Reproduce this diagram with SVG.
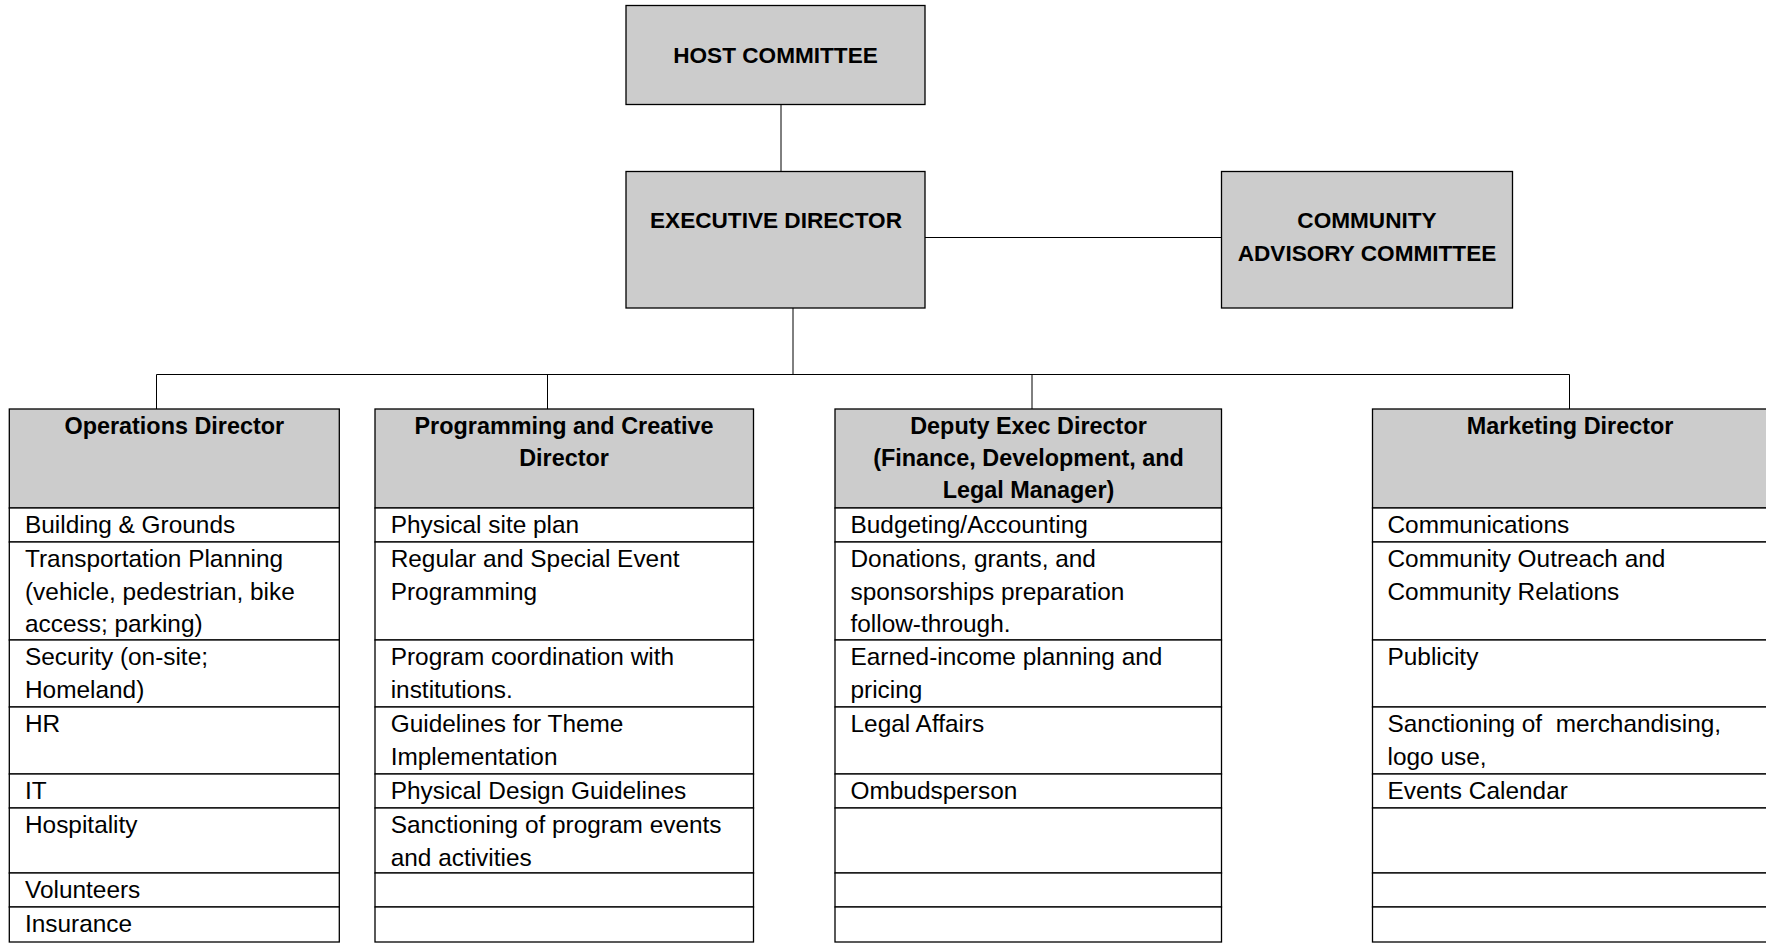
<svg xmlns="http://www.w3.org/2000/svg" width="1766" height="943" viewBox="0 0 1766 943">
<style>
.box{fill:#cccccc;stroke:#000;stroke-width:1.3}
.cell{fill:#fff;stroke:#000;stroke-width:1.3}
.hdr{fill:#cccccc;stroke:#000;stroke-width:1.3}
.ln{fill:none;stroke:#000;stroke-width:1}
.cap{font-family:"Liberation Sans",Arial,sans-serif;font-weight:bold;font-size:22.6px;fill:#000;text-anchor:middle}
.h{font-family:"Liberation Sans",Arial,sans-serif;font-weight:bold;font-size:23.4px;fill:#000;text-anchor:middle}
.t{font-family:"Liberation Sans",Arial,sans-serif;font-size:24.4px;fill:#000}
</style>
<rect width="1766" height="943" fill="#fff"/>
<g id="connectors">
<line class="ln" x1="781" y1="104.5" x2="781" y2="171.5"/>
<line class="ln" x1="925" y1="237.5" x2="1221.5" y2="237.5"/>
<line class="ln" x1="793" y1="308" x2="793" y2="374.5"/>
<line class="ln" x1="156.5" y1="374.5" x2="1569.5" y2="374.5"/>
<line class="ln" x1="156.5" y1="374.5" x2="156.5" y2="409"/>
<line class="ln" x1="547.5" y1="374.5" x2="547.5" y2="409"/>
<line class="ln" x1="1032" y1="374.5" x2="1032" y2="409"/>
<line class="ln" x1="1569.5" y1="374.5" x2="1569.5" y2="409"/>
</g>
<g id="host">
<rect class="box" x="626" y="5.5" width="299" height="99"/>
<text class="cap" x="775.5" y="63">HOST COMMITTEE</text>
</g>
<g id="exec">
<rect class="box" x="626" y="171.5" width="299" height="136.5"/>
<text class="cap" x="776" y="228">EXECUTIVE DIRECTOR</text>
</g>
<g id="community">
<rect class="box" x="1221.5" y="171.5" width="291" height="136.5"/>
<text class="cap" x="1367" y="228">COMMUNITY</text>
<text class="cap" x="1367" y="260.5">ADVISORY COMMITTEE</text>
</g>
<g id="operations">
<rect class="hdr" x="9.3" y="409" width="330" height="99"/>
<rect class="cell" x="9.3" y="508" width="330" height="34"/>
<rect class="cell" x="9.3" y="542" width="330" height="98"/>
<rect class="cell" x="9.3" y="640" width="330" height="67"/>
<rect class="cell" x="9.3" y="707" width="330" height="67"/>
<rect class="cell" x="9.3" y="774" width="330" height="34"/>
<rect class="cell" x="9.3" y="808" width="330" height="65"/>
<rect class="cell" x="9.3" y="873" width="330" height="34"/>
<rect class="cell" x="9.3" y="907" width="330" height="35"/>
<text class="h" x="174.3" y="433.5">Operations Director</text>
<text class="t" x="25" y="533">Building &amp; Grounds</text>
<text class="t" x="25" y="567">Transportation Planning</text>
<text class="t" x="25" y="599.5">(vehicle, pedestrian, bike</text>
<text class="t" x="25" y="632">access; parking)</text>
<text class="t" x="25" y="665">Security (on-site;</text>
<text class="t" x="25" y="697.5">Homeland)</text>
<text class="t" x="25" y="732">HR</text>
<text class="t" x="25" y="799">IT</text>
<text class="t" x="25" y="833">Hospitality</text>
<text class="t" x="25" y="898">Volunteers</text>
<text class="t" x="25" y="932">Insurance</text>
</g>
<g id="programming">
<rect class="hdr" x="375" y="409" width="378.5" height="99"/>
<rect class="cell" x="375" y="508" width="378.5" height="34"/>
<rect class="cell" x="375" y="542" width="378.5" height="98"/>
<rect class="cell" x="375" y="640" width="378.5" height="67"/>
<rect class="cell" x="375" y="707" width="378.5" height="67"/>
<rect class="cell" x="375" y="774" width="378.5" height="34"/>
<rect class="cell" x="375" y="808" width="378.5" height="65"/>
<rect class="cell" x="375" y="873" width="378.5" height="34"/>
<rect class="cell" x="375" y="907" width="378.5" height="35"/>
<text class="h" x="564" y="433.5">Programming and Creative</text>
<text class="h" x="564" y="466">Director</text>
<text class="t" x="390.7" y="533">Physical site plan</text>
<text class="t" x="390.7" y="567">Regular and Special Event</text>
<text class="t" x="390.7" y="599.5">Programming</text>
<text class="t" x="390.7" y="665">Program coordination with</text>
<text class="t" x="390.7" y="697.5">institutions.</text>
<text class="t" x="390.7" y="732">Guidelines for Theme</text>
<text class="t" x="390.7" y="764.5">Implementation</text>
<text class="t" x="390.7" y="799">Physical Design Guidelines</text>
<text class="t" x="390.7" y="833">Sanctioning of program events</text>
<text class="t" x="390.7" y="865.5">and activities</text>
</g>
<g id="deputy">
<rect class="hdr" x="835" y="409" width="386.5" height="99"/>
<rect class="cell" x="835" y="508" width="386.5" height="34"/>
<rect class="cell" x="835" y="542" width="386.5" height="98"/>
<rect class="cell" x="835" y="640" width="386.5" height="67"/>
<rect class="cell" x="835" y="707" width="386.5" height="67"/>
<rect class="cell" x="835" y="774" width="386.5" height="34"/>
<rect class="cell" x="835" y="808" width="386.5" height="65"/>
<rect class="cell" x="835" y="873" width="386.5" height="34"/>
<rect class="cell" x="835" y="907" width="386.5" height="35"/>
<text class="h" x="1028.5" y="433.5">Deputy Exec Director</text>
<text class="h" x="1028.5" y="466">(Finance, Development, and</text>
<text class="h" x="1028.5" y="498">Legal Manager)</text>
<text class="t" x="850.5" y="533">Budgeting/Accounting</text>
<text class="t" x="850.5" y="567">Donations, grants, and</text>
<text class="t" x="850.5" y="599.5">sponsorships preparation</text>
<text class="t" x="850.5" y="632">follow-through.</text>
<text class="t" x="850.5" y="665">Earned-income planning and</text>
<text class="t" x="850.5" y="697.5">pricing</text>
<text class="t" x="850.5" y="732">Legal Affairs</text>
<text class="t" x="850.5" y="799">Ombudsperson</text>
</g>
<g id="marketing">
<rect class="hdr" x="1372.5" y="409" width="395" height="99"/>
<rect class="cell" x="1372.5" y="508" width="395" height="34"/>
<rect class="cell" x="1372.5" y="542" width="395" height="98"/>
<rect class="cell" x="1372.5" y="640" width="395" height="67"/>
<rect class="cell" x="1372.5" y="707" width="395" height="67"/>
<rect class="cell" x="1372.5" y="774" width="395" height="34"/>
<rect class="cell" x="1372.5" y="808" width="395" height="65"/>
<rect class="cell" x="1372.5" y="873" width="395" height="34"/>
<rect class="cell" x="1372.5" y="907" width="395" height="35"/>
<text class="h" x="1570" y="433.5">Marketing Director</text>
<text class="t" x="1387.5" y="533">Communications</text>
<text class="t" x="1387.5" y="567">Community Outreach and</text>
<text class="t" x="1387.5" y="599.5">Community Relations</text>
<text class="t" x="1387.5" y="665">Publicity</text>
<text class="t" x="1387.5" y="732" xml:space="preserve">Sanctioning of  merchandising,</text>
<text class="t" x="1387.5" y="764.5">logo use,</text>
<text class="t" x="1387.5" y="799">Events Calendar</text>
</g>
</svg>
